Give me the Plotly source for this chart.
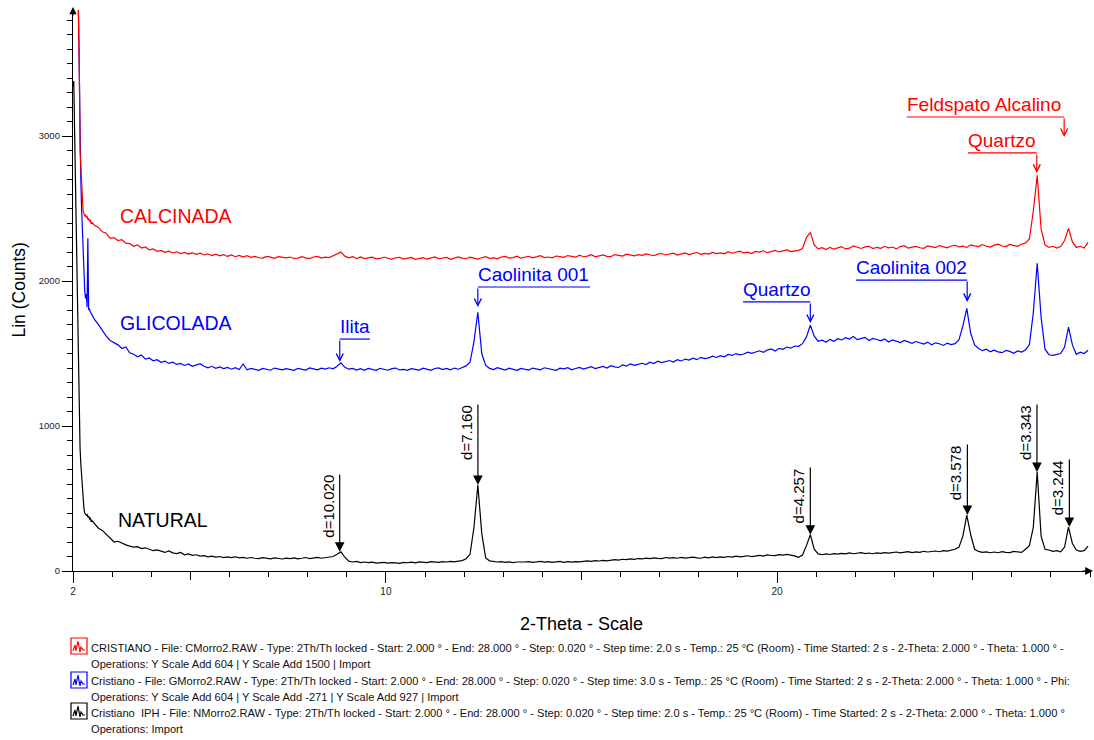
import numpy as np
import plotly.graph_objects as go

# ---------------- DATA ----------------
# 2-Theta sampling (degrees): fine steps on the steep low-angle edge, then 0.1 deg
two_theta = np.concatenate([
    np.round(2.00 + 0.02 * np.arange(25), 2),
    np.round(2.55 + 0.10 * np.arange(255), 2),
])

# Lin (Counts)
natural = [
    3340, 3380, 3050, 2750, 2400, 2100, 1800, 1450, 1000, 850,
    740, 640, 560, 500, 430, 400, 395, 385, 390, 372,
    378, 360, 365, 345, 350,
    330, 295, 280, 255, 225, 200, 205, 190, 180, 172,
    165, 168, 155, 160, 150, 140, 145, 135, 128, 138,
    125, 120, 128, 112, 118, 108, 112, 103, 106, 98,
    102, 96, 100, 93, 97, 92, 98, 90, 94, 88,
    93, 88, 86, 92, 89, 84, 91, 87, 83, 89,
    86, 90, 84, 88, 93, 86, 89, 94, 88, 91,
    96, 100, 115, 132, 95, 68, 62, 66, 58, 62,
    58, 61, 55, 57, 60, 54, 58, 56, 53, 59,
    57, 61, 56, 63, 60, 58, 64, 61, 59, 65,
    62, 66, 63, 68, 72, 85, 115, 300, 593, 260,
    90, 70, 64, 62, 65, 60, 63, 58, 62, 60,
    62, 65, 60, 63, 67, 61, 64, 59, 62, 66,
    60, 64, 61, 65, 63, 67, 70, 66, 72, 69,
    73, 70, 76, 79, 75, 81, 78, 84, 80, 86,
    83, 89, 85, 91, 87, 86, 93, 89, 92, 88,
    94, 89, 92, 96, 91, 88, 95, 90, 97, 92,
    98, 94, 100, 96, 102, 98, 101, 105, 99, 104,
    108, 103, 111, 107, 106, 113, 109, 115, 112, 104,
    95, 110, 175, 250, 150, 118, 112, 118, 114, 120,
    116, 121, 118, 125, 119, 123, 127, 120, 124, 119,
    125, 121, 127, 123, 126, 131, 125, 129, 133, 127,
    132, 129, 136, 131, 134, 138, 133, 140, 137, 143,
    150, 165, 240, 386, 250, 150, 135, 128, 132, 126,
    131, 126, 133, 129, 127, 135, 130, 128, 150, 175,
    300, 682, 240, 150, 145, 135, 140, 132, 165, 303,
    190, 145, 135, 140, 172,
]

glicolada = [
    5500, 5300, 5100, 4800, 4500, 4250, 4100, 3850, 3400, 2900,
    2700, 2500, 2350, 2250, 1990, 1930, 1880, 1910, 1820, 2295,
    1800, 1810, 1790, 1780, 1760,
    1735, 1700, 1655, 1620, 1590, 1575, 1560, 1535, 1545, 1505,
    1495, 1478, 1490, 1462, 1470, 1450, 1458, 1440, 1448, 1432,
    1440, 1425, 1432, 1418, 1428, 1412, 1420, 1430, 1412, 1402,
    1412, 1398, 1408, 1396, 1404, 1392, 1402, 1390, 1428, 1388,
    1398, 1390, 1384, 1397, 1391, 1385, 1400, 1394, 1387, 1396,
    1389, 1384, 1398, 1392, 1386, 1401, 1395, 1388, 1399, 1393,
    1402, 1395, 1412, 1436, 1405, 1392, 1398, 1386, 1396, 1385,
    1397, 1388, 1384, 1398, 1392, 1385, 1396, 1400, 1387, 1391,
    1384, 1396, 1391, 1386, 1399, 1393, 1384, 1397, 1401, 1389,
    1398, 1388, 1400, 1392, 1404, 1415, 1440, 1580, 1785, 1500,
    1418, 1398, 1389, 1402, 1394, 1386, 1399, 1393, 1384, 1397,
    1392, 1386, 1400, 1395, 1388, 1402, 1396, 1389, 1384, 1399,
    1394, 1402, 1388, 1397, 1405, 1393, 1400, 1409, 1396, 1403,
    1411, 1400, 1416, 1408, 1404, 1422, 1413, 1428, 1419, 1425,
    1433, 1424, 1440, 1431, 1447, 1438, 1444, 1452, 1441, 1458,
    1449, 1462, 1455, 1468, 1458, 1474, 1465, 1470, 1482, 1473,
    1486, 1478, 1494, 1487, 1500, 1491, 1497, 1510, 1502, 1508,
    1519, 1509, 1524, 1532, 1518, 1536, 1529, 1545, 1537, 1552,
    1550, 1568, 1615, 1695, 1620, 1585, 1592, 1578, 1598, 1585,
    1602, 1594, 1610, 1600, 1617, 1596, 1605, 1612, 1590, 1604,
    1597, 1588, 1601, 1580, 1594, 1586, 1576, 1590, 1582, 1570,
    1583, 1572, 1565, 1579, 1561, 1574, 1568, 1556, 1571, 1562,
    1568, 1595, 1690, 1812, 1640, 1560, 1535, 1520, 1530, 1512,
    1524, 1512, 1506, 1521, 1515, 1502, 1518, 1510, 1525, 1560,
    1780, 2123, 1750, 1530, 1492, 1488, 1495, 1500, 1545, 1682,
    1560, 1495, 1510, 1500, 1523,
]

calcinada = [
    6000, 5700, 5400, 5100, 4800, 4500, 4200, 3950, 3500, 2900,
    2780, 2650, 2520, 2480, 2465, 2450, 2455, 2440, 2445, 2425,
    2430, 2415, 2420, 2400, 2405,
    2385, 2370, 2340, 2330, 2295, 2300, 2280, 2285, 2262, 2258,
    2240, 2250, 2228, 2235, 2215, 2222, 2205, 2212, 2198, 2206,
    2194, 2202, 2190, 2198, 2186, 2195, 2184, 2192, 2180, 2188,
    2176, 2185, 2174, 2182, 2170, 2180, 2168, 2177, 2166, 2175,
    2164, 2170, 2161, 2158, 2170, 2165, 2157, 2168, 2163, 2160,
    2166, 2156, 2158, 2168, 2160, 2155, 2166, 2170, 2158, 2165,
    2162, 2175, 2188, 2200, 2172, 2160, 2168, 2156, 2166, 2155,
    2160, 2165, 2153, 2156, 2166, 2158, 2150, 2161, 2164, 2152,
    2158, 2163, 2150, 2155, 2162, 2151, 2159, 2166, 2154, 2157,
    2163, 2150, 2156, 2167, 2158, 2154, 2165, 2160, 2152, 2161,
    2168, 2157, 2160, 2153, 2166, 2170, 2159, 2162, 2172, 2158,
    2165, 2171, 2160, 2168, 2175, 2162, 2166, 2160, 2173, 2169,
    2164, 2176, 2170, 2165, 2179, 2168, 2172, 2182, 2167, 2175,
    2180, 2171, 2168, 2183, 2176, 2172, 2186, 2178, 2174, 2182,
    2177, 2188, 2182, 2175, 2186, 2190, 2180, 2184, 2192, 2179,
    2186, 2194, 2183, 2189, 2197, 2184, 2191, 2186, 2198, 2190,
    2195, 2188, 2203, 2192, 2198, 2206, 2194, 2199, 2190, 2205,
    2200, 2209, 2196, 2204, 2212, 2201, 2207, 2215, 2203, 2208,
    2212, 2225, 2300, 2336, 2250, 2222, 2230, 2218, 2232, 2220,
    2230, 2238, 2222, 2227, 2242, 2231, 2225, 2236, 2240, 2224,
    2233, 2226, 2240, 2229, 2235, 2222, 2238, 2244, 2228, 2234,
    2239, 2230, 2226, 2243, 2236, 2231, 2245, 2238, 2229, 2242,
    2247, 2236, 2241, 2232, 2250, 2243, 2238, 2252, 2240, 2235,
    2248, 2255, 2242, 2238, 2253, 2246, 2240, 2256, 2262, 2290,
    2480, 2729, 2360, 2250, 2232, 2240, 2228, 2238, 2280, 2364,
    2270, 2232, 2240, 2228, 2267,
]

sample_names = ["NATURAL", "GLICOLADA", "CALCINADA"]

# d-spacings (Angstrom) marked on the NATURAL pattern
d_spacings = [10.020, 7.160, 4.257, 3.578, 3.343, 3.244]
d_labels = ["d=10.020", "d=7.160", "d=4.257", "d=3.578", "d=3.343", "d=3.244"]

# Phase labels
phase_text = ["Ilita", "Caolinita 001", "Quartzo", "Caolinita 002", "Quartzo", "Feldspato Alcalino"]
phase_sample = ["GLICOLADA", "GLICOLADA", "GLICOLADA", "GLICOLADA", "CALCINADA", "CALCINADA"]
phase_2theta = [8.82, 12.35, 20.85, 24.86, 26.64, 27.34]

legend_lines = [
    "CRISTIANO - File: CMorro2.RAW - Type: 2Th/Th locked - Start: 2.000 ° - End: 28.000 ° - Step: 0.020 ° - Step time: 2.0 s - Temp.: 25 °C (Room) - Time Started: 2 s - 2-Theta: 2.000 ° - Theta: 1.000 ° -",
    "Operations: Y Scale Add 604 | Y Scale Add 1500 | Import",
    "Cristiano - File: GMorro2.RAW - Type: 2Th/Th locked - Start: 2.000 ° - End: 28.000 ° - Step: 0.020 ° - Step time: 3.0 s - Temp.: 25 °C (Room) - Time Started: 2 s - 2-Theta: 2.000 ° - Theta: 1.000 ° - Phi:",
    "Operations: Y Scale Add 604 | Y Scale Add -271 | Y Scale Add 927 | Import",
    "Cristiano  IPH - File: NMorro2.RAW - Type: 2Th/Th locked - Start: 2.000 ° - End: 28.000 ° - Step: 0.020 ° - Step time: 2.0 s - Temp.: 25 °C (Room) - Time Started: 2 s - 2-Theta: 2.000 ° - Theta: 1.000 °",
    "Operations: Import",
]

# ---------------- STYLE / LAYOUT SPECS ----------------
colors = {"NATURAL": "#000000", "GLICOLADA": "#0000FF", "CALCINADA": "#FF0000"}
series = {"NATURAL": natural, "GLICOLADA": glicolada, "CALCINADA": calcinada}
for k, v in series.items():
    assert len(v) == len(two_theta), (k, len(v), len(two_theta))

FONT = "Liberation Sans, Arial, Helvetica, sans-serif"
W, H = 1094, 740
L, R, T, B = 73, 4, 10, 169
PW, PH = W - L - R, H - T - B
X_RANGE = [2, 28]
Y_RANGE = [0, 3870]


def pxx(px):
    return (px - L) / PW


def pxy(py):
    return (H - B - py) / PH


sample_label_pos = {"CALCINADA": (3.2, 2449), "GLICOLADA": (3.2, 1711), "NATURAL": (3.15, 352)}
d_line_top = [676, 1159, 724, 883, 1159, 780]
phase_tip_y = [1442, 1821, 1711, 1856, 2746, 2994]
phase_corner_y = [1600, 1959, 1856, 2007, 2884, 3132]
phase_line_end = [9.59, 15.22, 19.13, 22.02, 24.88, 23.32]

fig = go.Figure()
for name in sample_names:
    fig.add_trace(go.Scatter(
        x=two_theta, y=series[name], mode="lines", name=name,
        line=dict(color=colors[name], width=1.2), hoverinfo="skip",
    ))
# helper trace for the medium x ticks axis
fig.add_trace(go.Scatter(x=[], y=[], xaxis="x2", yaxis="y", showlegend=False))

annotations = []
shapes = []

# sample labels
for name in sample_names:
    x0, y0 = sample_label_pos[name]
    annotations.append(dict(x=x0, y=y0, xref="x", yref="y", text=name, showarrow=False,
                            xanchor="left", yanchor="middle", xshift=-2,
                            font=dict(family=FONT, size=19.5, color=colors[name])))

# d-spacing markers on NATURAL
nat = np.array(natural)
for d, lab, top in zip(d_spacings, d_labels, d_line_top):
    tth = 2 * np.degrees(np.arcsin(1.5406 / (2 * d)))
    near = np.abs(two_theta - tth) <= 0.06
    tip = nat[near].max()
    annotations.append(dict(x=tth, y=tip, ax=tth, ay=top, xref="x", yref="y", axref="x", ayref="y",
                            text="", showarrow=True, arrowhead=2, arrowsize=1.6, arrowwidth=1.2,
                            arrowcolor="black", standoff=0))
    annotations.append(dict(x=tth, y=top, xref="x", yref="y", text=lab, showarrow=False,
                            textangle=-90, xanchor="right", yanchor="top", xshift=-1,
                            font=dict(family=FONT, size=15, color="black")))

# phase labels with bent leader arrows
for txt, smp, tth, tip, cy, xe in zip(phase_text, phase_sample, phase_2theta,
                                      phase_tip_y, phase_corner_y, phase_line_end):
    c = colors[smp]
    annotations.append(dict(x=tth, y=tip, ax=tth, ay=cy, xref="x", yref="y", axref="x", ayref="y",
                            text="", showarrow=True, arrowhead=5, arrowsize=1.15, arrowwidth=1.2,
                            arrowcolor=c, standoff=0))
    shapes.append(dict(type="line", xref="x", yref="y", x0=min(tth, xe), x1=max(tth, xe),
                       y0=cy, y1=cy, line=dict(color=c, width=1.2)))
    annotations.append(dict(x=min(tth, xe), y=cy, xref="x", yref="y", text=txt, showarrow=False,
                            xanchor="left", yanchor="bottom", xshift=-2, yshift=0,
                            font=dict(family=FONT, size=19, color=c)))

# axis titles
annotations.append(dict(x=pxx(18), y=0.5, xref="paper", yref="paper", text="Lin (Counts)",
                        showarrow=False, textangle=-90, xanchor="center", yanchor="middle",
                        font=dict(family=FONT, size=17.5, color="black")))
annotations.append(dict(x=pxx(581), y=pxy(624), xref="paper", yref="paper", text="2-Theta - Scale",
                        showarrow=False, xanchor="center", yanchor="middle",
                        font=dict(family=FONT, size=18, color="black")))

# axis arrowheads
annotations.append(dict(x=pxx(1093), y=0, xref="paper", yref="paper", ax=-12, ay=0, text="",
                        showarrow=True, arrowhead=2, arrowsize=1.3, arrowwidth=1.2,
                        arrowcolor="black", standoff=0))
annotations.append(dict(x=0, y=pxy(7), xref="paper", yref="paper", ax=0, ay=10, text="",
                        showarrow=True, arrowhead=2, arrowsize=1.2, arrowwidth=1.2,
                        arrowcolor="black", standoff=0))

# bottom legend (file information)
legend_text_y = [648, 664, 681, 697, 713, 729]
for txt, py in zip(legend_lines, legend_text_y):
    annotations.append(dict(x=pxx(89), y=pxy(py), xref="paper", yref="paper", text=txt,
                            showarrow=False, xanchor="left", yanchor="middle",
                            font=dict(family=FONT, size=11.1, color="#111111")))
icon_tops = [638, 672, 703]
for name, top in zip(["CALCINADA", "GLICOLADA", "NATURAL"], icon_tops):
    c = colors[name]
    shapes.append(dict(type="rect", xref="paper", yref="paper", x0=pxx(71), x1=pxx(87),
                       y0=pxy(top + 16), y1=pxy(top), line=dict(color=c, width=1.2),
                       fillcolor="rgba(0,0,0,0)"))
    pts = [(2, 13), (4, 7), (5, 13), (7, 3), (9, 14), (10, 9), (12, 12), (14, 12)]
    path = "M " + " L ".join(f"{pxx(71 + dx):.5f},{pxy(top + dy):.5f}" for dx, dy in pts)
    shapes.append(dict(type="path", xref="paper", yref="paper", path=path,
                       line=dict(color=c, width=1.2)))

axis_common = dict(showgrid=False, zeroline=False, color="black")
fig.update_layout(
    width=W, height=H,
    margin=dict(l=L, r=R, t=T, b=B, pad=0),
    paper_bgcolor="white", plot_bgcolor="white",
    showlegend=False,
    font=dict(family=FONT, color="black"),
    xaxis=dict(range=X_RANGE, showline=True, linecolor="black", linewidth=1.3,
               ticks="outside", tickvals=[2, 10, 20], ticklen=11, tickwidth=1.2, tickcolor="black",
               tickfont=dict(family=FONT, size=10, color="#222222"),
               minor=dict(ticks="outside", dtick=1, tick0=0, ticklen=5, tickwidth=1, tickcolor="black"),
               **axis_common),
    xaxis2=dict(range=X_RANGE, overlaying="x", anchor="y", side="bottom", showline=False,
                ticks="outside", tickvals=[5, 15, 25], ticklen=8, tickwidth=1.1, tickcolor="black",
                showticklabels=False, **axis_common),
    yaxis=dict(range=Y_RANGE, showline=True, linecolor="black", linewidth=1.3,
               ticks="outside", tickvals=[0, 1000, 2000, 3000], ticklen=10, tickwidth=1.2,
               tickcolor="black", tickfont=dict(family=FONT, size=9.5, color="#222222"),
               minor=dict(ticks="outside", dtick=100, tick0=0, ticklen=5, tickwidth=1, tickcolor="black"),
               **axis_common),
    annotations=annotations,
    shapes=shapes,
)

# remove the browser's default 8px page margin so the figure sits at the window origin
fig.write_html("out.html", config={"displayModeBar": False},
               post_script="document.body.style.margin='0px';")
